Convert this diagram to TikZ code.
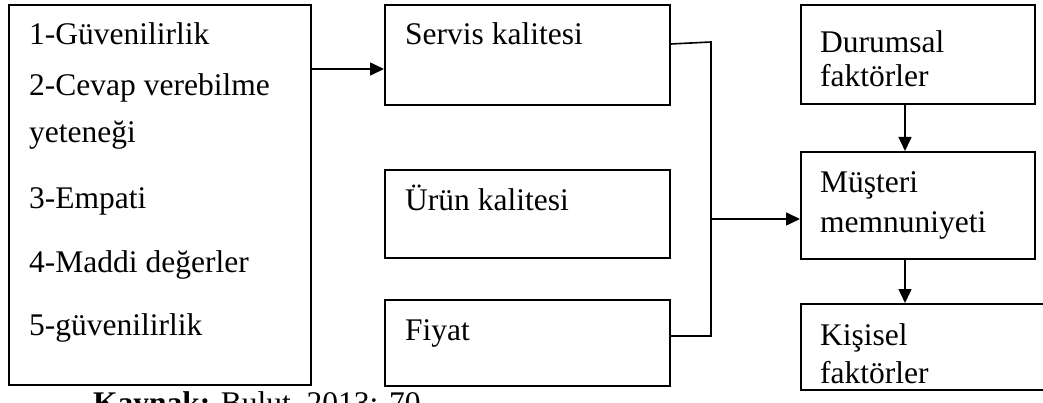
\documentclass[tikz,border=0pt]{standalone}
\usepackage{fontspec}
\setmainfont{Liberation Serif}
\usetikzlibrary{arrows.meta}
\begin{document}
\begin{tikzpicture}[x=1pt,y=-1pt,
  box/.style={draw=black, line width=1.6pt, rectangle, anchor=north west, inner sep=0pt},
  txt/.style={anchor=base west, inner sep=0pt, font=\fontsize{31.5}{37}\selectfont},
  conn/.style={draw=black, line width=1.6pt},
  arr/.style={conn, -{Triangle[length=14pt, width=13pt]}}]
\useasboundingbox (0,0) rectangle (1043,403);
% boxes
\node[box, minimum width=302pt, minimum height=380pt] (L) at (8,4) {};
\node[box, minimum width=285pt, minimum height=100pt] (S) at (384,4) {};
\node[box, minimum width=285pt, minimum height=88pt] (U) at (384,169) {};
\node[box, minimum width=285pt, minimum height=86pt] (F) at (384,299) {};
\node[box, minimum width=234pt, minimum height=99pt] (D) at (800,4) {};
\node[box, minimum width=234pt, minimum height=107pt] (M) at (800,151) {};
\node[box, minimum width=250pt, minimum height=86pt] (K) at (800,303) {};
% texts
\node[txt] (l1) at (29,45) {1-Güvenilirlik};
\node[txt] (l2) at (29,96) {2-Cevap verebilme};
\node[txt] (l2b) at (29,143) {yeteneği};
\node[txt] (l3) at (29,209) {3-Empati};
\node[txt] (l4) at (29,272) {4-Maddi değerler};
\node[txt] (l5) at (29,335) {5-güvenilirlik};
\node[txt] (st) at (405,45) {Servis kalitesi};
\node[txt] (ut) at (405,211) {Ürün kalitesi};
\node[txt] (ft) at (405,340) {Fiyat};
\node[txt] (dt1) at (820,53) {Durumsal};
\node[txt] (dt2) at (820,87) {faktörler};
\node[txt] (mt1) at (820,193) {Müşteri};
\node[txt] (mt2) at (820,233) {memnuniyeti};
\node[txt] (kt1) at (820,345) {Kişisel};
\node[txt] (kt2) at (820,383) {faktörler};
\node[txt] (cap) at (93,413) {\textbf{Kaynak:} Bulut, 2013: 70};
% connectors
\coordinate (a1) at (0,69);
\draw[arr] (L.east |- a1) -- (S.west |- a1);
\coordinate (s1) at (0,44);
\coordinate (j1) at (711,42);
\coordinate (j2) at (711,336);
\coordinate (j3) at (711,219);
\draw[conn] (S.east |- s1) -- (j1) -- (j2) -- (F.east |- j2);
\draw[arr] (j3) -- (M.west |- j3);
\coordinate (cx) at (905,0);
\draw[arr] (D.south -| cx) -- (M.north -| cx);
\draw[arr] (M.south -| cx) -- (K.north -| cx);
\end{tikzpicture}
\end{document}
